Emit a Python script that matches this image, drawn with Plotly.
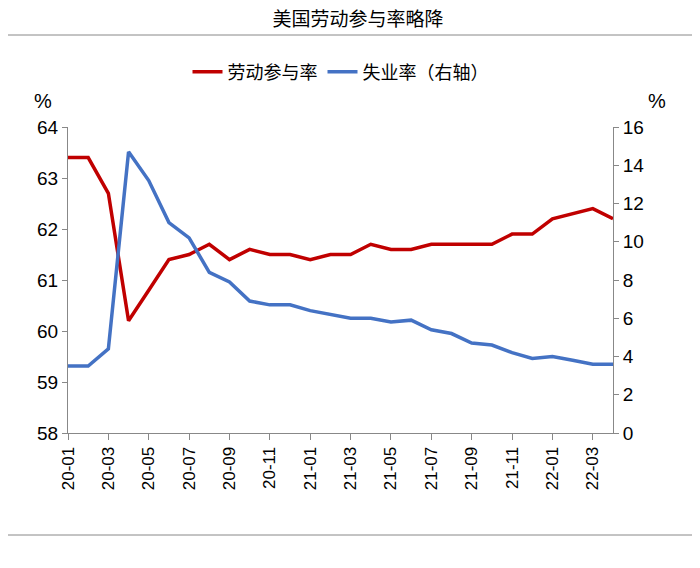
import plotly.graph_objects as go

months = ["20-01","20-02","20-03","20-04","20-05","20-06","20-07","20-08","20-09","20-10","20-11","20-12",
          "21-01","21-02","21-03","21-04","21-05","21-06","21-07","21-08","21-09","21-10","21-11","21-12",
          "22-01","22-02","22-03","22-04"]
lfpr = [63.4,63.4,62.7,60.2,60.8,61.4,61.5,61.7,61.4,61.6,61.5,61.5,
        61.4,61.5,61.5,61.7,61.6,61.6,61.7,61.7,61.7,61.7,61.9,61.9,
        62.2,62.3,62.4,62.2]
unemp = [3.5,3.5,4.4,14.7,13.2,11.0,10.2,8.4,7.9,6.9,6.7,6.7,
         6.4,6.2,6.0,6.0,5.8,5.9,5.4,5.2,4.7,4.6,4.2,3.9,
         4.0,3.8,3.6,3.6]
tick_labels = months[::2]

font = "Liberation Sans, Noto Sans CJK SC"
fig = go.Figure()
fig.add_trace(go.Scatter(x=months, y=lfpr, name="劳动参与率", mode="lines",
                         line=dict(color="#C00000", width=3.5)))
fig.add_trace(go.Scatter(x=months, y=unemp, name="失业率（右轴）", mode="lines",
                         line=dict(color="#4472C4", width=3.5), yaxis="y2"))

OFF = 8
L, R, T, B = 68 - OFF, 613 - OFF, 127 - OFF, 433 - OFF
def px(x): return (x - OFF - L) / (R - L)
def py(y): return (B - (y - OFF)) / (B - T)

fig.update_layout(
    width=700, height=568, plot_bgcolor="white", paper_bgcolor="white",
    margin=dict(l=L, r=700 - R, t=T, b=568 - B),
    font=dict(family=font, size=19, color="black"),
    showlegend=True,
    legend=dict(orientation="h", x=0.5, xanchor="center", y=py(72), yanchor="middle",
                font=dict(size=18, family="Noto Sans CJK SC")),
    xaxis=dict(type="category", tickmode="array", tickvals=tick_labels, ticktext=tick_labels,
               tickangle=-90, showline=True, linecolor="#888", ticks="outside",
               ticklen=6, tickcolor="#888", showgrid=False, tickfont=dict(size=17)),
    yaxis=dict(range=[58, 64], dtick=1, showline=True, linecolor="#888", ticks="outside",
               tickcolor="#888", showgrid=False, zeroline=False),
    yaxis2=dict(range=[0, 16], dtick=2, overlaying="y", side="right", showline=True,
                linecolor="#888", ticks="outside", tickcolor="#888", showgrid=False,
                zeroline=False),
    title=dict(text="美国劳动参与率略降", x=0.5, xanchor="center", y=1 - (19 - OFF)/568, yanchor="middle",
               font=dict(size=19, family="Noto Sans CJK SC")),
    shapes=[
        dict(type="line", xref="paper", yref="paper", x0=px(0), x1=px(710), y0=py(35), y1=py(35),
             line=dict(color="#888", width=1)),
        dict(type="line", xref="paper", yref="paper", x0=px(0), x1=px(710), y0=py(535), y1=py(535),
             line=dict(color="#888", width=1)),
    ],
    annotations=[
        dict(text="%", xref="paper", yref="paper", x=px(32), y=py(88), showarrow=False, font=dict(size=20)),
        dict(text="%", xref="paper", yref="paper", x=px(668), y=py(88), showarrow=False, font=dict(size=20)),
    ],
)
fig.write_html("out.html")
